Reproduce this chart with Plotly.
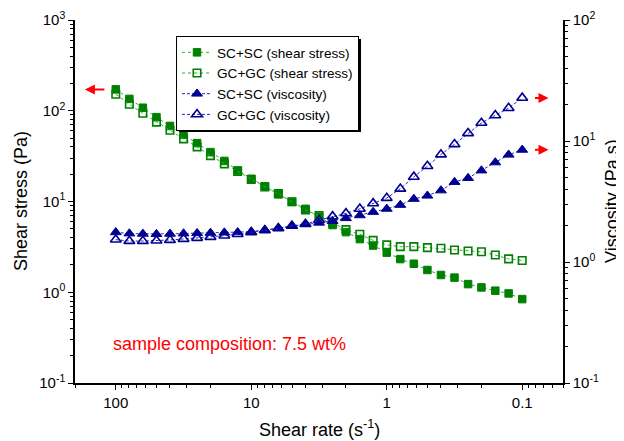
import math
import plotly.graph_objects as go

# ---------------- data ----------------
shear_rate = [100, 79.4, 63.1, 50.1, 39.8, 31.6, 25.1, 20.0, 15.8, 12.6,
              10.0, 7.94, 6.31, 5.01, 3.98, 3.16, 2.51, 2.00, 1.58, 1.26,
              1.00, 0.794, 0.631, 0.501, 0.398, 0.316, 0.251, 0.200, 0.158, 0.126, 0.100]

stress_sc = [172, 135, 108, 85, 68, 54.5, 44, 35, 28, 22,
             17.8, 14.7, 12.0, 9.9, 8.3, 6.8, 5.5, 4.6, 3.85, 3.27,
             2.73, 2.32, 2.06, 1.76, 1.55, 1.45, 1.23, 1.13, 1.04, 0.97, 0.84]

stress_gc = [152, 118, 94, 75, 61, 49, 40, 32, 26, 21.5,
             17.5, 14.5, 12.2, 9.95, 8.05, 6.98, 5.8, 4.9, 4.35, 3.73,
             3.33, 3.18, 3.18, 3.1, 3.05, 2.92, 2.85, 2.79, 2.57, 2.33, 2.24]

visc_sc = [1.76, 1.72, 1.71, 1.70, 1.71, 1.72, 1.73, 1.74, 1.75, 1.76,
           1.78, 1.84, 1.91, 1.98, 2.06, 2.11, 2.18, 2.30, 2.43, 2.59,
           2.75, 2.96, 3.32, 3.53, 3.90, 4.58, 4.94, 5.70, 6.65, 7.70, 8.45]

visc_gc = [1.53, 1.49, 1.49, 1.50, 1.52, 1.55, 1.58, 1.61, 1.65, 1.70,
           1.76, 1.83, 1.90, 1.99, 2.06, 2.22, 2.38, 2.52, 2.75, 3.05,
           3.38, 4.03, 5.05, 6.20, 7.73, 9.40, 11.6, 14.1, 16.3, 18.7, 22.7]

series_names = ["SC+SC (shear stress)", "GC+GC (shear stress)",
                "SC+SC (viscosity)", "GC+GC (viscosity)"]

x_tickvals = [100, 10, 1, 0.1]
x_ticktext = ["100", "10", "1", "0.1"]
y1_tickvals = [0.1, 1, 10, 100, 1000]
y1_ticktext = ["10<sup>-1</sup>", "10<sup>0</sup>", "10<sup>1</sup>", "10<sup>2</sup>", "10<sup>3</sup>"]
y2_tickvals = [0.1, 1, 10, 100]
y2_ticktext = ["10<sup>-1</sup>", "10<sup>0</sup>", "10<sup>1</sup>", "10<sup>2</sup>"]

x_title = "Shear rate (s<sup>-1</sup>)"
y1_title = "Shear stress (Pa)"
y2_title = "Viscosity (Pa.s)"
note_text = "sample composition: 7.5 wt%"

# ---------------- styling ----------------
FONT = "Arial, Liberation Sans, sans-serif"
GREEN = "#008000"
GREEN_LINE = "#3aa53a"
BLUE = "#000090"
BLUE_LINE = "#2a2ac0"

def minors(lo, hi):
    return [m * 10 ** k for k in range(lo, hi) for m in range(2, 10)]

# page is shown with the default 8px body margin -> compensate
PAGE_W, PAGE_H, OFF = 624, 441, 8
W, H = PAGE_W - OFF, PAGE_H - OFF
# plot area in page pixels
PX0, PX1, PY0, PY1 = 75, 563, 20, 383
L, T = PX0 - OFF, PY0 - OFF
R, B = W - (PX1 - OFF), H - (PY1 - OFF)
pw, ph = PX1 - PX0, PY1 - PY0

def px_x(p):
    return (p - PX0) / pw

def px_y(p):
    return (PY1 - p) / ph

fig = go.Figure()
fig.add_trace(go.Scatter(x=shear_rate, y=stress_sc, name=series_names[0], mode="lines+markers",
                         line=dict(color=GREEN_LINE, width=1, dash="dot"),
                         marker=dict(symbol="square", size=7.5, color=GREEN, line=dict(color=GREEN, width=1))))
fig.add_trace(go.Scatter(x=shear_rate, y=stress_gc, name=series_names[1], mode="lines+markers",
                         line=dict(color=GREEN_LINE, width=1, dash="dot"),
                         marker=dict(symbol="square-open", size=7.5, color=GREEN, line=dict(color=GREEN, width=1.6))))
fig.add_trace(go.Scatter(x=shear_rate, y=visc_sc, name=series_names[2], mode="lines+markers", yaxis="y2",
                         line=dict(color=BLUE_LINE, width=1, dash="3px,2px"),
                         marker=dict(symbol="triangle-up", size=9.5, color=BLUE, line=dict(color=BLUE, width=1))))
fig.add_trace(go.Scatter(x=shear_rate, y=visc_gc, name=series_names[3], mode="lines+markers", yaxis="y2",
                         line=dict(color=BLUE_LINE, width=1, dash="3px,2px"),
                         marker=dict(symbol="triangle-up-open", size=9.5, color=BLUE, line=dict(color=BLUE, width=1.6))))

xrange = [math.log10(200), math.log10(0.05)]
axis_common = dict(showline=True, linecolor="black", linewidth=1.5, showgrid=False, zeroline=False,
                   automargin=False, tickcolor="black", tickwidth=1.2,
                   tickfont=dict(size=15, color="black", family=FONT))

fig.update_layout(
    width=W, height=H, autosize=False,
    margin=dict(l=L, r=R, t=T, b=B, pad=0),
    paper_bgcolor="white", plot_bgcolor="white",
    font=dict(family=FONT, color="black"),
    xaxis=dict(type="log", range=xrange, tickmode="array", tickvals=x_tickvals, ticktext=x_ticktext,
               ticks="outside", ticklen=5,
               minor=dict(tickmode="array", tickvals=minors(-2, 3), ticks="outside", ticklen=3,
                          tickcolor="black", tickwidth=1),
               **axis_common),
    xaxis2=dict(type="log", range=xrange, overlaying="x", side="top", anchor="y",
                tickmode="array", tickvals=x_tickvals, showticklabels=False,
                ticks="inside", ticklen=5,
                minor=dict(tickmode="array", tickvals=minors(-2, 3), ticks="inside", ticklen=3,
                           tickcolor="black", tickwidth=1),
                **axis_common),
    yaxis=dict(type="log", range=[-1, 3], tickmode="array", tickvals=y1_tickvals, ticktext=y1_ticktext,
               ticks="outside", ticklen=5,
               minor=dict(tickmode="array", tickvals=minors(-1, 3), ticks="outside", ticklen=3,
                          tickcolor="black", tickwidth=1),
               **axis_common),
    yaxis2=dict(type="log", range=[-1, 2], overlaying="y", side="right", anchor="x",
                tickmode="array", tickvals=y2_tickvals, ticktext=y2_ticktext,
                ticks="outside", ticklen=5,
                minor=dict(tickmode="array", tickvals=minors(-1, 2), ticks="outside", ticklen=3,
                           tickcolor="black", tickwidth=1),
                **axis_common),
    legend=dict(x=px_x(176), y=px_y(36), xanchor="left", yanchor="top",
                bgcolor="white", bordercolor="black", borderwidth=1,
                font=dict(size=13.6, family=FONT, color="black"), tracegroupgap=0, itemwidth=30),
    showlegend=True,
)

# legend drop shadow
fig.add_shape(type="rect", xref="paper", yref="paper",
              x0=px_x(179), x1=px_x(361), y0=px_y(132), y1=px_y(39),
              fillcolor="black", line=dict(width=0), layer="above")

# axis titles
fig.add_annotation(x=px_x(319), y=px_y(428), xref="paper", yref="paper", xanchor="center", yanchor="middle",
                   text=x_title, showarrow=False, font=dict(size=18, color="black", family=FONT))
fig.add_annotation(x=px_x(21), y=px_y(201), xref="paper", yref="paper", xanchor="center", yanchor="middle",
                   text=y1_title, textangle=-90, showarrow=False, font=dict(size=18, color="black", family=FONT))
fig.add_annotation(x=px_x(612), y=px_y(201), xref="paper", yref="paper", xanchor="center", yanchor="middle",
                   text=y2_title, textangle=-90, showarrow=False, font=dict(size=18, color="black", family=FONT))

# red arrows pointing to the axes
arrow = dict(showarrow=True, arrowhead=2, arrowsize=1, arrowwidth=2, arrowcolor="red", text="", ay=0)
fig.add_annotation(x=math.log10(169), y=math.log10(stress_sc[0]), xref="x", yref="y", ax=21, **arrow)
fig.add_annotation(x=math.log10(0.064), y=math.log10(visc_gc[-1]), xref="x", yref="y2", ax=-15, **arrow)
fig.add_annotation(x=math.log10(0.064), y=math.log10(visc_sc[-1]), xref="x", yref="y2", ax=-15, **arrow)

fig.add_annotation(x=px_x(111), y=px_y(344), xref="paper", yref="paper", xanchor="left", yanchor="middle",
                   text=note_text, showarrow=False, font=dict(size=18, color="red", family=FONT))

fig.write_html("out.html")
